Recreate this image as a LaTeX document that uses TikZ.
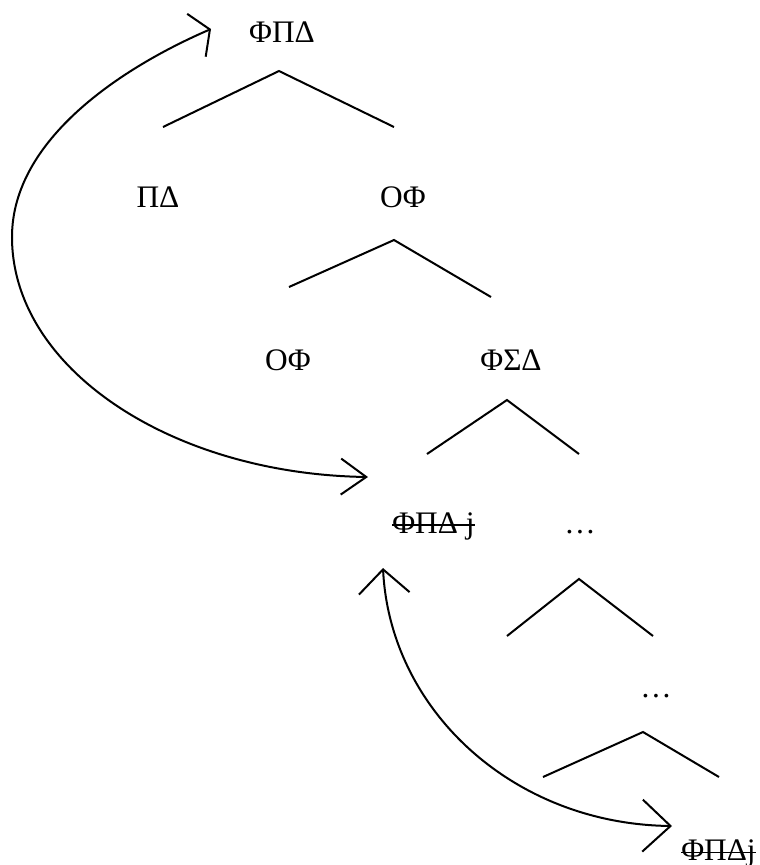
\documentclass[tikz,border=0pt]{standalone}
\usepackage{fontspec}
\setmainfont{Liberation Serif}
\usetikzlibrary{arrows.meta}
\begin{document}
\begin{tikzpicture}[x=0.75pt,y=-0.75pt,
  lbl/.style={inner sep=0pt, anchor=base, font=\fontsize{23.5}{28}\selectfont},
  lblw/.style={lbl, anchor=base west},
  branch/.style={line width=1.5pt},
  move/.style={line width=1.5pt},
  strike/.style={line width=1.2pt}]
\useasboundingbox (0,0) rectangle (760,865);

% labels of the tree
\node[lbl]  (fpd)   at (282,42)  {ΦΠΔ};
\node[lbl]  (pd)    at (158,207) {ΠΔ};
\node[lbl]  (of1)   at (403,207) {ΟΦ};
\node[lbl]  (of2)   at (288,370) {ΟΦ};
\node[lbl]  (fsd)   at (511,370) {ΦΣΔ};
\node[lblw] (trace) at (392,533) {ΦΠΔ j};
\node[lbl]  (dots1) at (580,533) {…};
\node[lbl]  (dots2) at (656,697) {…};
\node[lblw] (moved) at (681,860) {ΦΠΔj};

% struck-out copies
\draw[strike] ([yshift=6pt]trace.base west) -- ([yshift=6pt]trace.base east);
\draw[strike] ([yshift=5.5pt]moved.base west) -- ([yshift=5.5pt]moved.base east);

% branch vertices
\coordinate (t1) at (279,71);  \coordinate (l1) at (163,127); \coordinate (r1) at (394,127);
\coordinate (t2) at (394,240); \coordinate (l2) at (289,287); \coordinate (r2) at (491,297);
\coordinate (t3) at (507,400); \coordinate (l3) at (427,454); \coordinate (r3) at (579,454);
\coordinate (t4) at (579,579); \coordinate (l4) at (507,636); \coordinate (r4) at (653,636);
\coordinate (t5) at (643,732); \coordinate (l5) at (543,777); \coordinate (r5) at (719,777);

\draw[branch] (l1) -- (t1) -- (r1);
\draw[branch] (l2) -- (t2) -- (r2);
\draw[branch] (l3) -- (t3) -- (r3);
\draw[branch] (l4) -- (t4) -- (r4);
\draw[branch] (l5) -- (t5) -- (r5);

% ends of the movement arrows
\coordinate (a1) at (211,29);
\coordinate (m1) at (12,237);
\coordinate (b1) at (368,477);
\coordinate (a2) at (383,568);
\coordinate (b2) at (672,826);

\draw[move, {Straight Barb[length=11pt,width=35pt]}-{Straight Barb[length=19pt,width=27pt]}]
  (a1) .. controls +(-88,38) and +(0,-98) .. (m1)
       .. controls +(0,132) and +(-196,-3) .. (b1);
\draw[move, {Straight Barb[length=18pt,width=38pt]}-{Straight Barb[length=21pt,width=39pt]}]
  (a2) .. controls +(7,142) and +(-159,-2) .. (b2);
\end{tikzpicture}
\end{document}
